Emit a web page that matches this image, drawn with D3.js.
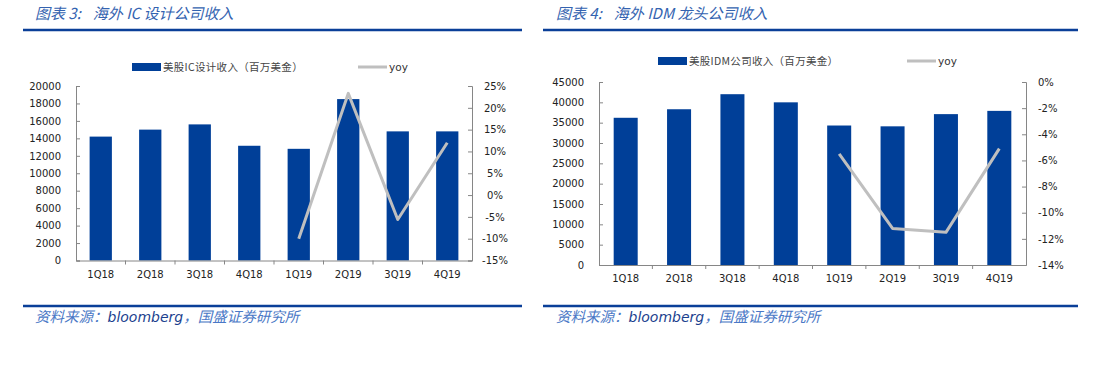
<!DOCTYPE html>
<html>
<head>
<meta charset="utf-8">
<script src="https://cdn.jsdelivr.net/npm/d3@7/dist/d3.min.js"></script>
<style>
  html, body { margin: 0; padding: 0; background: #fff; }
  svg { display: block; }
</style>
</head>
<body>
<svg id="chart" width="1098" height="367"></svg>
<script>
// ---------- data ----------
const categories = ["1Q18", "2Q18", "3Q18", "4Q18", "1Q19", "2Q19", "3Q19", "4Q19"];

const icRevenue = [14200, 15000, 15600, 13150, 12800, 18500, 14800, 14800];
const icYoy = [null, null, null, null, -10.0, 23.3, -5.6, 12.0];
const icLeftTicks = [0, 2000, 4000, 6000, 8000, 10000, 12000, 14000, 16000, 18000, 20000];
const icRightTicks = [-15, -10, -5, 0, 5, 10, 15, 20, 25];

const idmRevenue = [36200, 38300, 42000, 40000, 34300, 34100, 37100, 37900];
const idmYoy = [null, null, null, null, -5.5, -11.2, -11.5, -5.1];
const idmLeftTicks = [0, 5000, 10000, 15000, 20000, 25000, 30000, 35000, 40000, 45000];
const idmRightTicks = [-14, -12, -10, -8, -6, -4, -2, 0];

const icTitle = ["图表 3:", "海外 IC 设计公司收入"];
const idmTitle = ["图表 4:", "海外 IDM 龙头公司收入"];
const icBarLabel = "美股IC设计收入（百万美金）";
const idmBarLabel = "美股IDM公司收入（百万美金）";
const lineLabel = "yoy";
const sourceParts = ["资料来源：", "bloomberg", "，国盛证券研究所"];

// ---------- style ----------
const BAR = "#003F98";
const LINE = "#BFBFBF";
const AXIS = "#868686";
const RULE = "#0A3F98";
const TITLE = "#3463B0";
const TICKFONT = "'DejaVu Sans', Verdana, sans-serif";
const CJK = "'Noto Sans CJK SC', sans-serif";

const svg = d3.select("#chart");
svg.append("rect").attr("width", 1098).attr("height", 367).attr("fill", "#fff");

function drawPanel(cfg) {
  const g = svg.append("g");

  // title
  const t = g.append("text")
    .attr("x", cfg.titleX).attr("y", 18.5)
    .attr("font-family", CJK).attr("font-size", 15)
    .attr("font-style", "italic").attr("fill", TITLE);
  t.append("tspan").text(cfg.title[0]);
  t.append("tspan").attr("dx", 12).text(cfg.title[1]);

  // rules
  g.append("line").attr("x1", cfg.ruleX0).attr("x2", cfg.ruleX1)
    .attr("y1", 30).attr("y2", 30).attr("stroke", RULE).attr("stroke-width", 2.5);
  g.append("line").attr("x1", cfg.ruleX0).attr("x2", cfg.ruleX1)
    .attr("y1", 306).attr("y2", 306).attr("stroke", RULE).attr("stroke-width", 2.5);

  // footer
  const f = g.append("text").attr("x", cfg.titleX).attr("y", 321.5)
    .attr("font-style", "italic");
  f.append("tspan").attr("font-family", CJK).attr("font-size", 14.5).attr("fill", "#4A78C6").text(sourceParts[0]);
  f.append("tspan").attr("font-family", TICKFONT).attr("fill", "#1B3F8E").attr("font-size", 14).text(sourceParts[1]);
  f.append("tspan").attr("font-family", CJK).attr("font-size", 14.5).attr("fill", "#4A78C6").text(sourceParts[2]);

  // scales
  const x = d3.scaleBand().domain(categories).range([cfg.x0, cfg.x1]).paddingInner(0.55).paddingOuter(0.275);
  const band = d3.scaleBand().domain(categories).range([cfg.x0, cfg.x1]);
  const yL = d3.scaleLinear().domain(cfg.leftDomain).range([cfg.y1, cfg.y0]);
  const yR = d3.scaleLinear().domain(cfg.rightDomain).range([cfg.y1, cfg.y0]);

  // bars
  g.append("g").selectAll("rect").data(cfg.revenue).join("rect")
    .attr("x", (d, i) => x(categories[i]))
    .attr("width", x.bandwidth())
    .attr("y", d => yL(d))
    .attr("height", d => yL(0) - yL(d))
    .attr("fill", BAR);

  // axes
  const axL = d3.axisLeft(yL).tickValues(cfg.leftTicks).tickSize(-4).tickPadding(15).tickFormat(d3.format("d"));
  const gL = g.append("g").attr("transform", `translate(${cfg.x0},0)`).call(axL);
  const axR = d3.axisRight(yR).tickValues(cfg.rightTicks).tickSize(-4).tickPadding(15).tickFormat(d => d + "%");
  const gR = g.append("g").attr("transform", `translate(${cfg.x1},0)`).call(axR);
  gR.selectAll("text").attr("text-anchor", cfg.rightAnchor).attr("dx", cfg.rightDx);

  const axB = d3.axisBottom(band).tickSize(0).tickPadding(10);
  const gB = g.append("g").attr("transform", `translate(0,${cfg.y1})`).call(axB);
  // tick marks between categories
  g.append("g").selectAll("line").data(categories.slice(1)).join("line")
    .attr("x1", d => band(d)).attr("x2", d => band(d))
    .attr("y1", cfg.y1).attr("y2", cfg.y1 + 4).attr("stroke", AXIS);

  [gL, gR, gB].forEach(a => {
    a.select(".domain").attr("stroke", AXIS);
    a.selectAll(".tick line").attr("stroke", AXIS);
    a.selectAll("text").attr("font-family", TICKFONT).attr("font-size", 10).attr("fill", "#222");
  });

  // yoy line
  const pts = cfg.yoy.map((v, i) => ({ c: categories[i], v })).filter(p => p.v !== null);
  g.append("path").datum(pts)
    .attr("d", d3.line().x(p => band(p.c) + band.bandwidth() / 2).y(p => yR(p.v)))
    .attr("fill", "none").attr("stroke", LINE).attr("stroke-width", 3).attr("stroke-linejoin", "round");

  // legend
  g.append("rect").attr("x", cfg.legX).attr("y", cfg.legY - 4).attr("width", 29).attr("height", 8).attr("fill", BAR);
  g.append("text").attr("x", cfg.legX + 31).attr("y", cfg.legY + 4)
    .attr("font-family", CJK).attr("font-size", 10.5).attr("letter-spacing", 0.3).attr("fill", "#444").text(cfg.barLabel);
  g.append("line").attr("x1", cfg.legLineX).attr("x2", cfg.legLineX + 29)
    .attr("y1", cfg.legY).attr("y2", cfg.legY).attr("stroke", LINE).attr("stroke-width", 3);
  g.append("text").attr("x", cfg.legLineX + 31).attr("y", cfg.legY + 4)
    .attr("font-family", TICKFONT).attr("font-size", 10.5).attr("fill", "#333").text(lineLabel);
}

drawPanel({
  title: icTitle, titleX: 35, ruleX0: 23, ruleX1: 522,
  x0: 76, x1: 472, y0: 86, y1: 260.5,
  leftDomain: [0, 20000], rightDomain: [-15, 25],
  leftTicks: icLeftTicks, rightTicks: icRightTicks,
  revenue: icRevenue, yoy: icYoy,
  rightAnchor: "middle", rightDx: 8,
  legX: 132, legY: 67, legLineX: 358, barLabel: icBarLabel
});

drawPanel({
  title: idmTitle, titleX: 556, ruleX0: 543, ruleX1: 1078,
  x0: 599, x1: 1026, y0: 82, y1: 265,
  leftDomain: [0, 45000], rightDomain: [-14, 0],
  leftTicks: idmLeftTicks, rightTicks: idmRightTicks,
  revenue: idmRevenue, yoy: idmYoy,
  rightAnchor: "start", rightDx: -3,
  legX: 658, legY: 61, legLineX: 907, barLabel: idmBarLabel
});
</script>
</body>
</html>
